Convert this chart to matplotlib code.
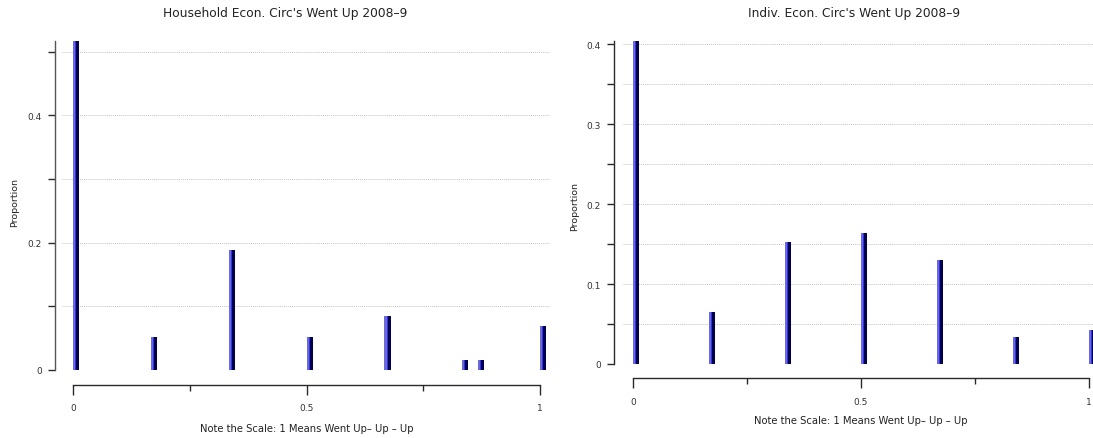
import matplotlib
matplotlib.use("Agg")
import matplotlib.pyplot as plt
from matplotlib.ticker import MultipleLocator, FixedLocator

# ── Data ──────────────────────────────────────────────────────────────────────
hh_x = [0, 1 / 6, 1 / 3, 1 / 2, 2 / 3, 0.833, 0.867, 1]
hh_prop = [0.516, 0.052, 0.188, 0.052, 0.085, 0.016, 0.016, 0.069]

ind_x = [0, 1 / 6, 1 / 3, 1 / 2, 2 / 3, 5 / 6, 1]
ind_prop = [0.404, 0.065, 0.153, 0.164, 0.130, 0.034, 0.043]

hh_title = "Household Econ. Circ's Went Up 2008\u20139"
ind_title = "Indiv. Econ. Circ's Went Up 2008\u20139"
x_label = "Note the Scale: 1 Means Went Up\u2013 Up \u2013 Up"

# ── Style ─────────────────────────────────────────────────────────────────────
LIGHT = "#6a6ad2"
BRIGHT = "#2f2ff0"
NAVY = "#00004e"
GRID = "#c4c4c4"
AXIS = "#2a2a2a"

plt.rcParams.update({
    "font.family": "DejaVu Sans",
    "font.size": 6.5,
    "text.color": "#222222",
    "xtick.color": AXIS,
    "ytick.color": AXIS,
    "xtick.labelcolor": "#333333",
    "ytick.labelcolor": "#333333",
})

W, H = 1093, 439
PT = 72 / 100  # pixels -> points at dpi 100
fig = plt.figure(figsize=(W / 100, H / 100), dpi=100)


def px_rect(x0, x1, ytop, ybot):
    return [x0 / W, (H - ybot) / H, (x1 - x0) / W, (ybot - ytop) / H]


def bars3d(ax, xs, ys, unit_px):
    w = 1.0 / unit_px
    ax.bar(xs, ys, width=2.2 * w, align="edge", color=LIGHT, lw=0, zorder=3)
    ax.bar([x + 2.2 * w for x in xs], ys, width=1.0 * w, align="edge",
           color=BRIGHT, lw=0, zorder=3)
    ax.bar([x + 3.2 * w for x in xs], ys, width=3.0 * w, align="edge",
           color=NAVY, lw=0, zorder=3)


def style_axes(ax, ymax, major, minor, left_out, bottom_out, xpad):
    for s in ("top", "right"):
        ax.spines[s].set_visible(False)
    ax.spines["left"].set_position(("outward", left_out * PT))
    ax.spines["bottom"].set_position(("outward", bottom_out * PT))
    ax.spines["left"].set_color(AXIS)
    ax.spines["bottom"].set_color(AXIS)
    ax.spines["left"].set_linewidth(1.0)
    ax.spines["bottom"].set_linewidth(1.0)
    ax.spines["bottom"].set_bounds(0, 1)
    ax.set_ylim(0, ymax)
    ax.yaxis.set_major_locator(MultipleLocator(major))
    ax.yaxis.set_minor_locator(MultipleLocator(minor))
    ax.yaxis.set_major_formatter(lambda v, p: "0" if abs(v) < 1e-9 else f"{v:g}")
    ax.xaxis.set_major_locator(FixedLocator([0, 0.5, 1]))
    ax.xaxis.set_minor_locator(FixedLocator([0.25, 0.75]))
    ax.xaxis.set_major_formatter(lambda v, p: f"{v:g}")
    ax.tick_params(axis="y", which="both", length=7 * PT, width=1.0, pad=6 * PT)
    ax.tick_params(axis="x", which="major", length=10 * PT, width=1.0,
                   pad=xpad * PT)
    ax.tick_params(axis="x", which="minor", length=6 * PT, width=1.0)
    yt = [k * minor for k in range(int(round(ymax / minor)) + 1)]
    for y in yt:
        ax.axhline(y, color=GRID, lw=0.7, ls=(0, (1, 1)), zorder=1)


# ── Left panel: household ─────────────────────────────────────────────────────
unit_l = 467.0
ax1 = fig.add_axes(px_rect(62, 550, 42, 371))
bars3d(ax1, hh_x, hh_prop, unit_l)
ax1.set_xlim((62 - 73) / unit_l, (550 - 73) / unit_l)
style_axes(ax1, 0.5165, 0.2, 0.1, 7, 15, 8)
ax1.spines["left"].set_color("#555555")

# ── Right panel: individual ───────────────────────────────────────────────────
unit_r = 456.0
ax2 = fig.add_axes(px_rect(623, 1093, 42, 365))
bars3d(ax2, ind_x, ind_prop, unit_r)
ax2.set_xlim((623 - 633) / unit_r, (1093 - 633) / unit_r)
style_axes(ax2, 0.404, 0.1, 0.05, 9, 14, 9)

# ── Text ──────────────────────────────────────────────────────────────────────
fig.text(285 / W, 1 - 14 / H, hh_title, ha="center", va="center", fontsize=8.8)
fig.text(854 / W, 1 - 14 / H, ind_title, ha="center", va="center", fontsize=8.8)
fig.text(15 / W, 1 - 203 / H, "Proportion", rotation=90, ha="center",
         va="center", fontsize=6.8)
fig.text(575 / W, 1 - 207 / H, "Proportion", rotation=90, ha="center",
         va="center", fontsize=6.8)
fig.text(307 / W, 1 - 429 / H, x_label, ha="center", va="center", fontsize=7.2)
fig.text(861 / W, 1 - 421 / H, x_label, ha="center", va="center", fontsize=7.2)

fig.savefig("out.png", dpi=100)
